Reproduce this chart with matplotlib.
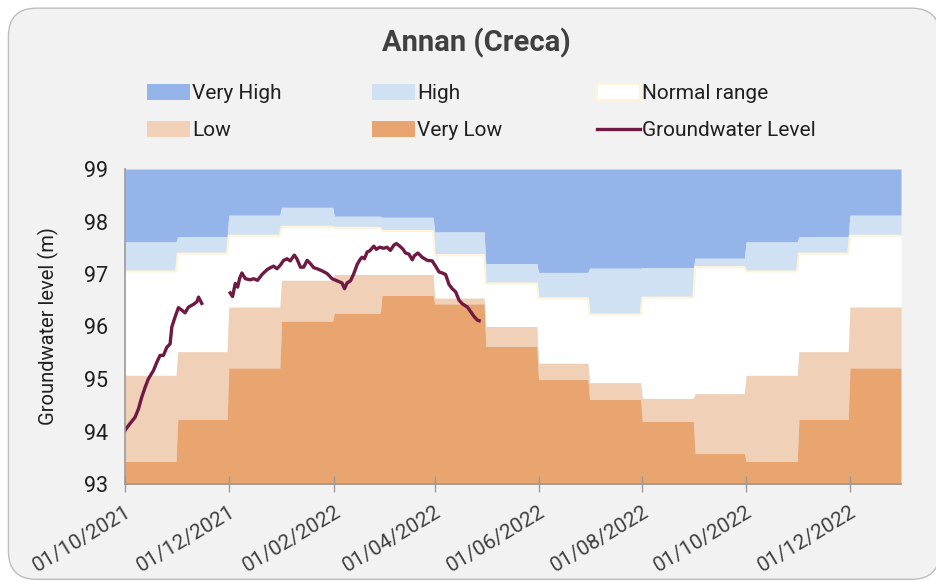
import matplotlib
matplotlib.use("Agg")
import matplotlib.pyplot as plt
import matplotlib.dates as mdates
from matplotlib.patches import Patch, FancyBboxPatch
from matplotlib.lines import Line2D
import numpy as np
import pandas as pd

# monthly band tops, Oct 2021 .. Dec 2022 (m)
months = pd.date_range("2021-10-01", "2022-12-01", freq="MS")
very_low = [93.43, 94.23, 95.21, 96.10, 96.25, 96.59, 96.43, 95.62, 94.99, 94.61, 94.19, 93.58, 93.43, 94.23, 95.21]
low = [95.07, 95.52, 96.37, 96.88, 96.99, 96.99, 96.54, 96.00, 95.30, 94.93, 94.63, 94.72, 95.07, 95.52, 96.37]
normal = [97.05, 97.39, 97.73, 97.90, 97.88, 97.82, 97.36, 96.82, 96.54, 96.23, 96.55, 97.13, 97.05, 97.39, 97.73]
high = [97.61, 97.71, 98.12, 98.27, 98.10, 98.08, 97.80, 97.20, 97.03, 97.11, 97.12, 97.30, 97.61, 97.71, 98.12]

# groundwater level readings: days after 01/10/2021, level (m); NaN = gap
gw_day = [0, 0.6, 2.9, 5.9, 7.9, 9.8, 11.8, 13.7, 16.7, 18.7, 20.6, 22.6, 24.5, 26.5, 27.5,
          29.4, 31.4, 33.4, 35.3, 37.3, 40.2, 42.2, 43.2, 45.1, 53,
          61.8, 63.2, 64.8, 66.2, 67.3, 68.7, 70.7, 73.6, 75.6, 77.9, 80.5, 83.4, 85.4, 87.3,
          89.3, 91.3, 93.2, 95.2, 97.1, 99.5, 101.0, 103.1, 105.0, 107.0, 108.9, 110.9, 112.9,
          115.8, 118.7, 121.7, 124.6, 127.5, 129.0, 130.5, 132.5, 134.5, 136.4, 138.0, 139.3,
          140.7, 142.3, 143.8, 146.2, 147.7, 149.7, 152.0, 154.0, 155.9, 158.0, 159.5, 161.5,
          163.4, 164.8, 166.8, 168.8, 170.1, 172.1, 174.6, 177.6, 180.5, 182.5, 184.5, 186.4,
          188.4, 190.4, 192.3, 194.3, 196.3, 198.3, 201.2, 203.2, 205.1, 207.1, 208.1]
gw_level = [94.02, 94.05, 94.15, 94.27, 94.43, 94.65, 94.84, 95.00, 95.16, 95.32, 95.45, 95.45,
            95.60, 95.67, 95.99, 96.18, 96.36, 96.31, 96.26, 96.37, 96.42, 96.47, 96.56, 96.44, np.nan,
            96.64, 96.57, 96.82, 96.75, 96.91, 97.02, 96.91, 96.89, 96.91, 96.88, 96.99, 97.08,
            97.12, 97.15, 97.10, 97.17, 97.26, 97.29, 97.25, 97.36, 97.29, 97.13, 97.13, 97.26,
            97.20, 97.12, 97.10, 97.06, 97.01, 96.91, 96.87, 96.83, 96.72, 96.83, 96.87, 97.01,
            97.18, 97.27, 97.32, 97.29, 97.42, 97.44, 97.53, 97.47, 97.51, 97.49, 97.51, 97.45,
            97.55, 97.58, 97.53, 97.47, 97.40, 97.38, 97.27, 97.35, 97.40, 97.32, 97.26, 97.25,
            97.15, 97.04, 97.02, 96.99, 96.80, 96.72, 96.66, 96.50, 96.43, 96.37, 96.28, 96.19,
            96.12, 96.11]

plt.rcParams['font.family'] = ['Roboto', 'DejaVu Sans']

# daily series from the monthly values
days = pd.date_range("2021-10-01", "2022-12-31", freq="D")
idx = (days.year - 2021) * 12 + days.month - 10
vl_d = np.array(very_low)[idx]
lo_d = np.array(low)[idx]
no_d = np.array(normal)[idx]
hi_d = np.array(high)[idx]

fig = plt.figure(figsize=(9.36, 5.84), dpi=100)
fig.patch.set_facecolor('white')
bg = FancyBboxPatch((0.009, 0.008), 0.995, 0.978, boxstyle="round,pad=0,rounding_size=0.03",
                    transform=fig.transFigure, facecolor='#F2F2F2', edgecolor='#BDBDBD',
                    linewidth=1.0, zorder=-10, mutation_aspect=936 / 584)
fig.patches.append(bg)

ax = fig.add_axes([125 / 936, 1 - 484 / 584, 776 / 936, 315 / 584])
ax.set_facecolor('none')

ax.fill_between(days, hi_d, 99, color='#95B5EA', linewidth=0)
ax.fill_between(days, no_d, hi_d, color='#CFE1F3', linewidth=0)
ax.fill_between(days, lo_d, no_d, color='white', linewidth=0)
ax.plot(days, no_d, color='#FFF3D9', linewidth=1.5)
ax.fill_between(days, vl_d, lo_d, color='#F0D1B8', linewidth=0)
ax.fill_between(days, 92, vl_d, color='#E8A570', linewidth=0)

gw_dates = pd.Timestamp("2021-10-01") + pd.to_timedelta(gw_day, unit='D')
ax.plot(gw_dates, gw_level, color='#6E1A42', linewidth=2.4)

ax.set_xlim(pd.Timestamp("2021-10-01"), pd.Timestamp("2022-12-31"))
ax.set_ylim(93, 99)
ax.set_yticks(range(93, 100))

ax.xaxis.set_major_locator(mdates.MonthLocator(bymonth=[2, 4, 6, 8, 10, 12]))
ax.xaxis.set_major_formatter(mdates.DateFormatter('%d/%m/%Y'))
ax.tick_params(axis='x', direction='inout', length=12, width=1, color='#9A9A9A',
               labelsize=15, labelcolor='#404040', pad=7)
ax.tick_params(axis='y', length=0, labelsize=15.5, labelcolor='#202020', pad=12)
for lab in ax.get_xticklabels():
    lab.set_rotation(31)
    lab.set_ha('right')
    lab.set_va('top')
    lab.set_rotation_mode('anchor')

for s in ['top', 'right']:
    ax.spines[s].set_visible(False)
for s in ['left', 'bottom']:
    ax.spines[s].set_color('#9A9A9A')
    ax.spines[s].set_linewidth(1.2)

ax.set_ylabel('Groundwater level (m)', fontsize=14.5, color='#202020', labelpad=18)

fig.text(476 / 936, 1 - 43 / 584, 'Annan (Creca)', ha='center', va='center',
         fontsize=21, fontweight='bold', color='#404040')

# legend: three columns placed by hand
legend_cols = [
    (147, [Patch(facecolor='#95B5EA', label='Very High'),
           Patch(facecolor='#F0D1B8', label='Low')]),
    (372, [Patch(facecolor='#CFE1F3', label='High'),
           Patch(facecolor='#E8A570', label='Very Low')]),
    (597, [Patch(facecolor='white', edgecolor='#FFF3D9', linewidth=1.5, label='Normal range'),
           Line2D([0], [0], color='#6E1A42', linewidth=2.4, label='Groundwater Level')]),
]
for x0, hs in legend_cols:
    fig.legend(handles=hs, loc='upper left', bbox_to_anchor=(x0 / 936, 1 - 84 / 584),
               frameon=False, fontsize=15, handlelength=2.05, handleheight=0.8,
               handletextpad=0.12, labelspacing=0.85, borderpad=0,
               borderaxespad=0, labelcolor='#202020')

fig.savefig('out.png', dpi=100, facecolor=fig.get_facecolor())
